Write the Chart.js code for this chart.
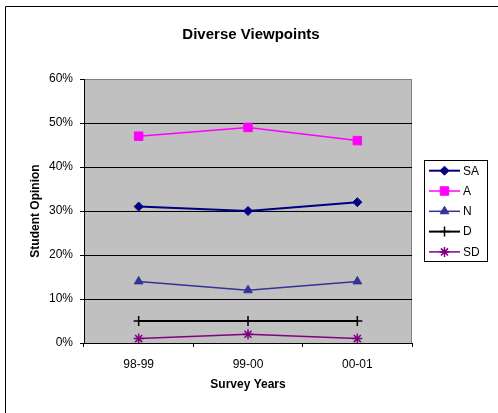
<!DOCTYPE html>
<html>
<head>
<meta charset="utf-8">
<script src="https://cdn.jsdelivr.net/npm/chart.js@4/dist/chart.umd.min.js"></script>
<style>
  html, body { margin: 0; padding: 0; background: #fff; }
  #wrap { width: 498px; height: 413px; }
</style>
</head>
<body>
<div id="wrap"><canvas id="myChart" width="498" height="413"></canvas></div>
<script>
// data
const categories = ['98-99', '99-00', '00-01'];
const seriesNames = ['SA', 'A', 'N', 'D', 'SD'];
const saValues = [31, 30, 32];
const aValues = [47, 49, 46];
const nValues = [14, 12, 14];
const dValues = [5, 5, 5];
const sdValues = [1, 2, 1];
const yTicks = [0, 10, 20, 30, 40, 50, 60];
const chartTitle = 'Diverse Viewpoints';

const fontFam = '"Liberation Sans", Arial, sans-serif';

// look of each series: colour, marker, marker size, line width
const looks = [
  { color: '#000080', style: 'rectRot', r: 4.5, w: 2 },
  { color: '#FF00FF', style: 'rect', r: 6, w: 1.5 },
  { color: '#333399', style: 'triangle', r: 5, w: 1.5 },
  { color: '#000000', style: 'cross', r: 5, w: 2 },
  { color: '#800080', style: 'star', r: 5, w: 1.5 }
];
const allValues = [saValues, aValues, nValues, dValues, sdValues];

const datasets = seriesNames.map(function(name, i) {
  const lk = looks[i];
  const hollow = lk.style === 'cross' || lk.style === 'star';
  return {
    label: name,
    data: allValues[i],
    borderColor: lk.color,
    backgroundColor: lk.color,
    borderWidth: lk.w,
    pointStyle: lk.style,
    pointRadius: lk.r,
    pointHoverRadius: lk.r,
    pointBackgroundColor: lk.color,
    pointBorderColor: lk.color,
    pointBorderWidth: hollow ? 1.5 : 1,
    tension: 0,
    fill: false
  };
});

// grey plot area, outer frame and the title
const plotBg = {
  id: 'plotBg',
  beforeDraw(chart) {
    const ctx = chart.ctx, a = chart.chartArea;
    ctx.save();
    ctx.strokeStyle = '#000';
    ctx.lineWidth = 1;
    ctx.beginPath();
    ctx.moveTo(5.5, 420);
    ctx.lineTo(5.5, 6.5);
    ctx.lineTo(505, 6.5);
    ctx.stroke();
    ctx.fillStyle = '#C0C0C0';
    ctx.fillRect(a.left, a.top, a.right - a.left, a.bottom - a.top);
    ctx.strokeStyle = '#808080';
    ctx.beginPath();
    ctx.moveTo(Math.round(a.right) - 0.5, a.top);
    ctx.lineTo(Math.round(a.right) - 0.5, a.bottom);
    ctx.stroke();
    ctx.fillStyle = '#000';
    ctx.font = 'bold 15px ' + fontFam;
    ctx.textAlign = 'center';
    ctx.textBaseline = 'middle';
    ctx.fillText(chartTitle, 251, 34.5);
    ctx.restore();
  }
};

// legend box with a line through each marker
const sideLegend = {
  id: 'sideLegend',
  afterDraw(chart) {
    const ctx = chart.ctx;
    ctx.save();
    ctx.fillStyle = '#fff';
    ctx.fillRect(424.5, 160.5, 63, 101);
    ctx.strokeStyle = '#000';
    ctx.lineWidth = 1;
    ctx.strokeRect(424.5, 160.5, 63, 101);
    seriesNames.forEach(function(name, i) {
      const lk = looks[i];
      const y = 170.7 + i * 20.3;
      ctx.strokeStyle = lk.color;
      ctx.fillStyle = lk.color;
      ctx.lineWidth = lk.w;
      ctx.beginPath();
      ctx.moveTo(429, y);
      ctx.lineTo(460, y);
      ctx.stroke();
      const hollow = lk.style === 'cross' || lk.style === 'star';
      ctx.lineWidth = hollow ? 1.5 : 1;
      Chart.helpers.drawPoint(ctx, { pointStyle: lk.style, radius: lk.r, rotation: 0, borderWidth: ctx.lineWidth }, 444.5, y);
      ctx.fillStyle = '#000';
      ctx.font = '12px ' + fontFam;
      ctx.textBaseline = 'middle';
      ctx.textAlign = 'left';
      ctx.fillText(name, 463, y + 0.5);
    });
    ctx.restore();
  }
};

new Chart(document.getElementById('myChart'), {
  type: 'line',
  data: { labels: categories, datasets: datasets },
  options: {
    responsive: false,
    animation: false,
    layout: { padding: { left: 10, right: 86, top: 79, bottom: 14 } },
    plugins: {
      legend: { display: false },
      tooltip: { enabled: false },
      title: { display: false }
    },
    scales: {
      x: {
        offset: true,
        afterFit: function(scale) { scale.height = 56; },
        grid: { offset: true, drawOnChartArea: false, tickLength: 4, color: '#000' },
        border: { color: '#000', width: 1 },
        ticks: { color: '#000', padding: 10, font: { family: fontFam, size: 12 } },
        title: {
          display: true,
          text: 'Survey Years',
          color: '#000',
          font: { family: fontFam, size: 12, weight: 'bold' },
          padding: { top: 0, bottom: 7 }
        }
      },
      y: {
        min: yTicks[0],
        max: yTicks[yTicks.length - 1],
        afterFit: function(scale) { scale.width = 74; },
        afterBuildTicks: function(scale) { scale.ticks = yTicks.map(v => ({ value: v })); },
        grid: {
          color: c => (c.tick && c.tick.value === 60) ? '#808080' : '#000',
          tickColor: '#000',
          tickLength: 4
        },
        border: { color: '#000', width: 1 },
        ticks: {
          color: '#000',
          padding: 7,
          font: { family: fontFam, size: 12 },
          callback: v => v + '%'
        },
        title: {
          display: true,
          text: 'Student Opinion',
          color: '#000',
          font: { family: fontFam, size: 12, weight: 'bold' },
          padding: { top: 18, bottom: 0 }
        }
      }
    }
  },
  plugins: [plotBg, sideLegend]
});
</script>
</body>
</html>
